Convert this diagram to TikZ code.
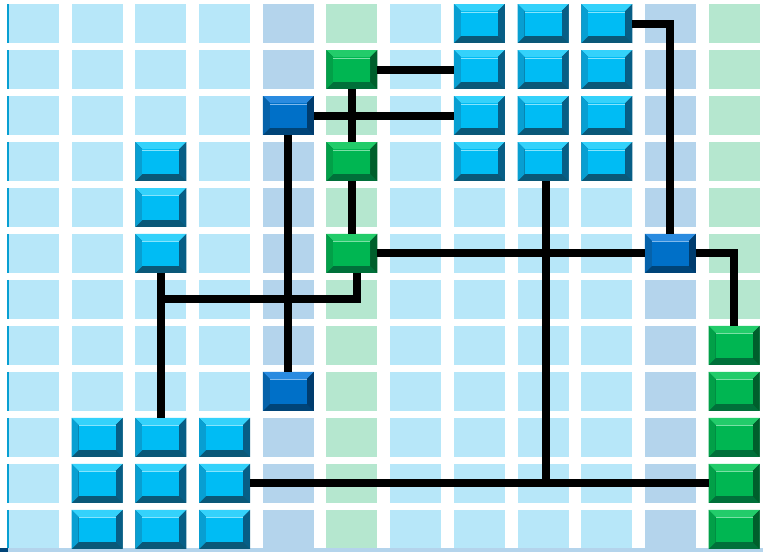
\documentclass[tikz,border=0pt]{standalone}
\definecolor{cellblue}{HTML}{B7E7F9}
\definecolor{cellgrey}{HTML}{B4D4EC}
\definecolor{cellgreen}{HTML}{B5E7CF}
\definecolor{cyM}{HTML}{00BCF4}\definecolor{cyT}{HTML}{34D2FB}\definecolor{cyL}{HTML}{089FD2}\definecolor{cyR}{HTML}{075E86}\definecolor{cyB}{HTML}{0A5878}
\definecolor{dbM}{HTML}{0070C8}\definecolor{dbT}{HTML}{2A8BE0}\definecolor{dbL}{HTML}{0662AA}\definecolor{dbR}{HTML}{003C6E}\definecolor{dbB}{HTML}{004478}
\definecolor{grM}{HTML}{00B652}\definecolor{grT}{HTML}{22CC6A}\definecolor{grL}{HTML}{02A048}\definecolor{grR}{HTML}{005F2C}\definecolor{grB}{HTML}{00703A}
\tikzset{btn/.style n args={5}{minimum width=51pt,minimum height=39pt,inner sep=0pt,outer sep=0pt,path picture={
\def\bb{path picture bounding box}
\fill[#5] (\bb.south west) rectangle (\bb.north east);
\fill[#2] (\bb.north west) -- (\bb.north east) -- ([shift={(-7pt,-7pt)}]\bb.north east) -- ([shift={(7pt,-7pt)}]\bb.north west) -- cycle;
\fill[#3] (\bb.north west) -- ([shift={(7pt,-7pt)}]\bb.north west) -- ([shift={(7pt,7pt)}]\bb.south west) -- (\bb.south west) -- cycle;
\fill[#4] (\bb.north east) -- ([shift={(-7pt,-7pt)}]\bb.north east) -- ([shift={(-7pt,7pt)}]\bb.south east) -- (\bb.south east) -- cycle;
\fill[#1] ([shift={(7pt,-7pt)}]\bb.north west) rectangle ([shift={(-7pt,7pt)}]\bb.south east);
\draw[#2!60!white,line width=1pt] ([shift={(7pt,-8pt)}]\bb.north west) -- ([shift={(-7pt,-8pt)}]\bb.north east);}},
cybtn/.style={btn={cyM}{cyT}{cyL}{cyR}{cyB}},
dbbtn/.style={btn={dbM}{dbT}{dbL}{dbR}{dbB}},
grbtn/.style={btn={grM}{grT}{grL}{grR}{grB}},
wire/.style={line width=8pt,black}}
\begin{document}
\begin{tikzpicture}[x=63.7pt,y=-46pt]
\useasboundingbox (-.1256,-.087) rectangle (11.853,11.913);
\foreach \i/\c in {0/cellblue,1/cellblue,2/cellblue,3/cellblue,4/cellgrey,5/cellgreen,6/cellblue,7/cellblue,8/cellblue,9/cellblue,10/cellgrey,11/cellgreen}{\foreach \j in {0,...,11}{\fill[\c] (\i,\j) rectangle ++(.8,.848);}}
\foreach \j in {0,...,11}{\draw[cyL,line width=1.5pt] (0,\j) -- ++(0,.848);}
\fill[cellgrey] (0,11.83) rectangle (11.853,11.913);
\fill[dbB] (-.1256,11.83) rectangle (0,11.913);
\foreach \j in {3,4,5}{\node[cybtn] (c2-\j) at (2.4,\j+.424){};}
\foreach \i in {1,2,3}{\foreach \j in {9,10,11}{\node[cybtn] (c\i-\j) at (\i+.4,\j+.424){};}}
\foreach \i in {7,8,9}{\foreach \j in {0,...,3}{\node[cybtn] (c\i-\j) at (\i+.4,\j+.424){};}}
\node[dbbtn] (db4-2) at (4.4,2.424){};
\node[dbbtn] (db4-8) at (4.4,8.424){};
\node[dbbtn] (db10-5) at (10.4,5.424){};
\foreach \j in {1,3,5}{\node[grbtn] (g5-\j) at (5.4,\j+.424){};}
\foreach \j in {7,...,11}{\node[grbtn] (g11-\j) at (11.4,\j+.424){};}
\draw[wire] (g5-1.east) -- (c7-1.west);
\draw[wire] (g5-1.south) -- (g5-3.north);
\draw[wire] (db4-2.east) -- (c7-2.west);
\draw[wire] (db4-2.south) -- (db4-8.north);
\draw[wire] (g5-3.south) -- (g5-5.north);
\draw[wire] (g5-5.east) -- (db10-5.west);
\draw[wire] (c9-0.east) -| (db10-5.north);
\draw[wire] (db10-5.east) -| (g11-7.north);
\draw[wire] (c2-5.south) -- (c2-9.north);
\coordinate (tee) at (c2-5.south |- 0,6.41);
\draw[wire] ([xshift=5pt]g5-5.south) |- (tee);
\draw[wire] (c3-10.east) -- (g11-10.west);
\coordinate (join) at ([xshift=3pt]c8-3.south |- c3-10.east);
\draw[wire] ([xshift=3pt]c8-3.south) -- (join);
\end{tikzpicture}
\end{document}
